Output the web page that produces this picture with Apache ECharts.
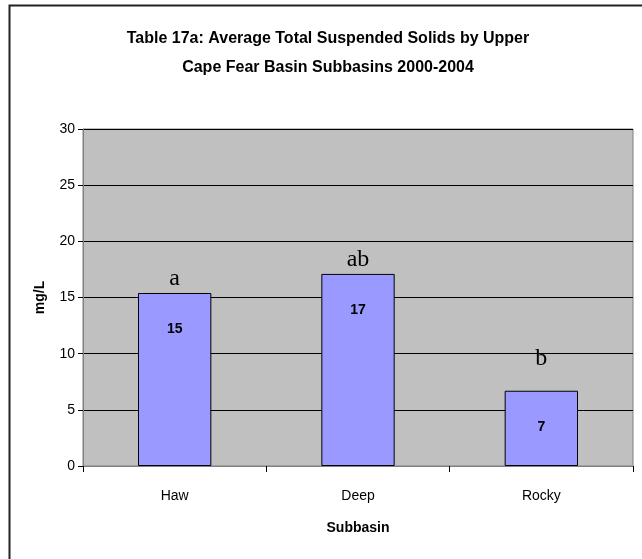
<!DOCTYPE html>
<html>
<head>
<meta charset="utf-8">
<script src="https://cdn.jsdelivr.net/npm/echarts@6/dist/echarts.min.js"></script>
<style>
  html, body { margin: 0; padding: 0; background: #fff; }
  #chart { width: 642px; height: 559px; }
</style>
</head>
<body>
<div id="chart"></div>
<script>
// Average total suspended solids (mg/L) per subbasin, 2000-2004
const subbasins = ['Haw', 'Deep', 'Rocky'];
const tssMean = [15.4, 17.1, 6.7];
// Significance grouping letters shown above each bar
const groupLetters = ['a', 'ab', 'b'];
const yTicks = [0, 5, 10, 15, 20, 25, 30];

// distance of each grouping letter above its bar
const letterGap = [2, 2, 20];

const chart = echarts.init(document.getElementById('chart'));
const sans = '"Liberation Sans", Arial, sans-serif';

chart.setOption({
  animation: false,
  backgroundColor: '#ffffff',
  title: {
    text: 'Table 17a: Average Total Suspended Solids by Upper\nCape Fear Basin Subbasins 2000-2004',
    left: 323,
    textAlign: 'center',
    top: 19,
    textStyle: { fontFamily: sans, fontWeight: 'bold', fontSize: 16, color: '#000', lineHeight: 29 }
  },
  grid: {
    left: 83, top: 129, right: 9, bottom: 93,
    show: true, backgroundColor: '#c0c0c0', borderColor: '#808080', borderWidth: 1
  },
  xAxis: {
    type: 'category',
    data: subbasins,
    name: 'Subbasin',
    nameLocation: 'middle',
    nameGap: 55,
    nameTextStyle: { fontFamily: sans, fontWeight: 'bold', fontSize: 14, color: '#000' },
    axisLine: { lineStyle: { color: '#808080', width: 1 } },
    axisTick: { show: true, length: 6, lineStyle: { color: '#000' } },
    axisLabel: { fontFamily: sans, fontSize: 14, color: '#000', margin: 23 }
  },
  yAxis: {
    type: 'value',
    min: yTicks[0],
    max: yTicks[yTicks.length - 1],
    interval: yTicks[1] - yTicks[0],
    name: 'mg/L',
    nameLocation: 'middle',
    nameGap: 36,
    nameRotate: 90,
    nameTextStyle: { fontFamily: sans, fontWeight: 'bold', fontSize: 14, color: '#000' },
    axisLine: { show: true, lineStyle: { color: '#808080', width: 1 } },
    axisTick: { show: true, length: 5, lineStyle: { color: '#000' } },
    axisLabel: { fontFamily: sans, fontSize: 14, color: '#000', margin: 8 },
    splitLine: { show: true, lineStyle: { color: '#000', width: 1 } }
  },
  series: [
    {
      type: 'bar',
      data: tssMean,
      barWidth: '40%',
      itemStyle: { color: '#9999ff', borderColor: '#000', borderWidth: 1 },
      label: {
        show: true,
        position: 'insideTop',
        distance: 29,
        formatter: p => Math.round(p.value).toString(),
        fontFamily: sans, fontWeight: 'bold', fontSize: 14, color: '#000'
      },
      z: 3
    },
    {
      // transparent overlay carrying the grouping letters
      type: 'bar',
      barGap: '-100%',
      barWidth: '40%',
      data: tssMean.map((v, i) => ({
        value: v,
        label: { distance: letterGap[i] }
      })),
      itemStyle: { color: 'rgba(0,0,0,0)' },
      label: {
        show: true,
        position: 'top',
        formatter: p => groupLetters[p.dataIndex],
        fontFamily: '"Liberation Serif", "Times New Roman", serif',
        fontSize: 24, color: '#000'
      },
      silent: true,
      z: 4
    }
  ],
  graphic: [
    {
      type: 'polyline',
      shape: { points: [[9.5, 559], [9.5, 5.5], [642, 5.5]] },
      style: { stroke: '#222', lineWidth: 2, fill: null },
      silent: true
    }
  ]
});
</script>
</body>
</html>
